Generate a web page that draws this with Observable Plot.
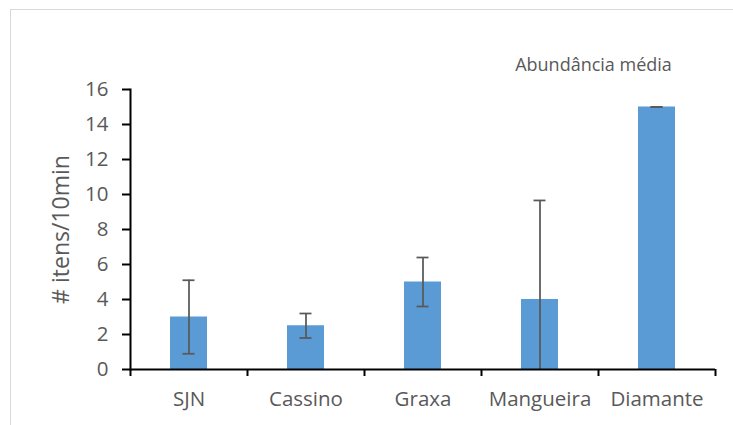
<!DOCTYPE html>
<html>
<head>
<meta charset="utf-8">
<script src="https://cdn.jsdelivr.net/npm/d3@7"></script>
<script src="https://cdn.jsdelivr.net/npm/@observablehq/plot@0.6"></script>
<style>
  html, body { margin: 0; padding: 0; background: #fff; }
  #wrap { position: relative; width: 733px; height: 425px; overflow: hidden; }
  #border { position: absolute; left: 10px; top: 9px; width: 740px; height: 430px; border: 1.5px solid #d9d9d9; box-sizing: border-box; }
  #chart { position: absolute; left: 0; top: 0; }
</style>
</head>
<body>
<div id="wrap"><div id="border"></div><div id="chart"></div></div>
<script>
const categories = ["SJN", "Cassino", "Graxa", "Mangueira", "Diamante"];
const means = [3, 2.5, 5, 4, 15];
const errors = [2.1, 0.7, 1.4, 5.66, 0];
const yTicks = [0, 2, 4, 6, 8, 10, 12, 14, 16];
const title = "Abundância média";
const yLabel = "# itens/10min";

const data = categories.map((c, i) => ({
  site: c, mean: means[i], lo: means[i] - errors[i], hi: means[i] + errors[i]
}));

const font = "'Open Sans', 'DejaVu Sans', sans-serif";
const gray = "#595959";

const chart = Plot.plot({
  width: 733,
  height: 425,
  marginLeft: 130,
  marginRight: 18,
  marginTop: 89,
  marginBottom: 56,
  style: { fontFamily: font, background: "transparent", overflow: "visible" },
  x: { domain: categories, paddingInner: 0.684, paddingOuter: 0.342, label: null },
  y: { domain: [0, 16], label: null },
  marks: [
    Plot.barY(data, { x: "site", y: "mean", fill: "#5B9BD5" }),
    Plot.ruleX(data, { x: "site", y1: "lo", y2: "hi", stroke: gray, strokeWidth: 1.75, clip: true }),
    Plot.tickY(data, { x: "site", y: "lo", stroke: gray, strokeWidth: 1.75, insetLeft: 12.5, insetRight: 12.5, clip: true }),
    Plot.tickY(data, { x: "site", y: "hi", stroke: gray, strokeWidth: 1.75, insetLeft: 12.5, insetRight: 12.5, clip: true }),
    Plot.frame({ anchor: "left", stroke: "#000", strokeWidth: 2 }),
    Plot.ruleY([0], { stroke: "#000", strokeWidth: 2 }),
    // category boundary ticks below the x axis
    Plot.ruleX(categories, { x: d => d, y1: 0, y2: 0, dx: -58.5, insetBottom: -7, stroke: "#000", strokeWidth: 2 }),
    Plot.ruleX([categories[categories.length - 1]], { x: d => d, y1: 0, y2: 0, dx: 58.5, insetBottom: -7, stroke: "#000", strokeWidth: 2 }),
    Plot.axisY({ ticks: yTicks, tickSize: 8, tickPadding: 14, tickFormat: d => String(d), fontSize: 20.5, color: gray, stroke: "#000", strokeWidth: 2, label: null }),
    Plot.axisX({ tickSize: 0, tickPadding: 22, fontSize: 20.5, color: gray, label: null }),
    Plot.text([yLabel], { frameAnchor: "left", rotate: -90, dx: -69, fontSize: 23, fill: gray, textAnchor: "middle" }),
    Plot.text([title], { frameAnchor: "top-right", dx: -122, dy: -31, fontSize: 18, fill: gray, textAnchor: "middle" })
  ]
});
document.getElementById("chart").appendChild(chart);
</script>
</body>
</html>
